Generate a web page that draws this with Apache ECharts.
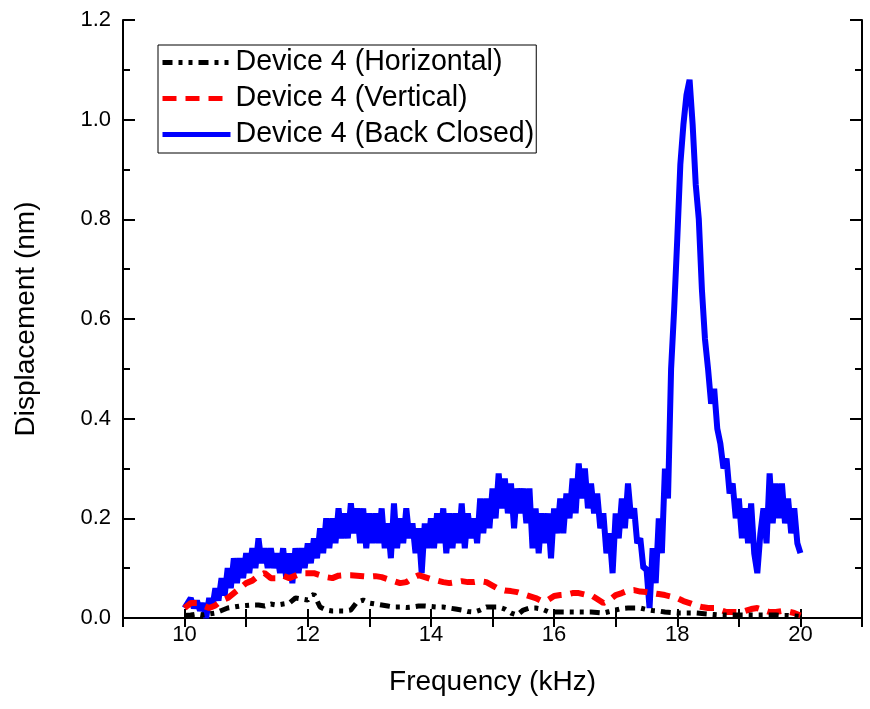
<!DOCTYPE html>
<html>
<head>
<meta charset="utf-8">
<script src="https://cdn.jsdelivr.net/npm/echarts@6/dist/echarts.min.js"></script>
<style>
  html, body { margin: 0; padding: 0; background: #fff; }
  #chart { width: 870px; height: 709px; }
</style>
</head>
<body>
<div id="chart"></div>
<script>
// Displacement vs frequency, Device 4
const seriesNames = ['Device 4 (Horizontal)', 'Device 4 (Vertical)', 'Device 4 (Back Closed)'];
const xTicks = [10, 12, 14, 16, 18, 20];

// Back Closed: sampled every 0.05 kHz from 10 to 20 kHz (noisy band)
const backStep = 0.05;
const backClosed = [
  0.02, 0.03, 0.04, 0.02, 0.035, 0.015, 0.03, 0.0, 0.04, 0.02,
  0.06, 0.035, 0.08, 0.045, 0.10, 0.06, 0.12, 0.07, 0.12, 0.08,
  0.13, 0.09, 0.14, 0.10, 0.16, 0.11, 0.14, 0.10, 0.14, 0.10,
  0.13, 0.09, 0.14, 0.08, 0.13, 0.07, 0.14, 0.09, 0.14, 0.10,
  0.15, 0.11, 0.16, 0.12, 0.18, 0.13, 0.20, 0.14, 0.20, 0.15,
  0.22, 0.16, 0.21, 0.16, 0.23, 0.17, 0.22, 0.15, 0.22, 0.14,
  0.21, 0.15, 0.21, 0.15, 0.22, 0.14, 0.19, 0.12, 0.23, 0.14,
  0.20, 0.15, 0.22, 0.16, 0.19, 0.13, 0.18, 0.09, 0.19, 0.14,
  0.20, 0.14, 0.21, 0.15, 0.22, 0.13, 0.21, 0.14, 0.21, 0.15,
  0.23, 0.14, 0.21, 0.16, 0.20, 0.15, 0.24, 0.17, 0.24, 0.18,
  0.26, 0.20, 0.29, 0.22, 0.28, 0.21, 0.27, 0.18, 0.26, 0.21,
  0.26, 0.19, 0.26, 0.14, 0.22, 0.13, 0.21, 0.15, 0.21, 0.12,
  0.22, 0.17, 0.24, 0.17, 0.25, 0.20, 0.28, 0.21, 0.31, 0.24,
  0.30, 0.22, 0.27, 0.21, 0.25, 0.18, 0.21, 0.13, 0.17, 0.09,
  0.21, 0.16, 0.24, 0.18, 0.27, 0.20, 0.22, 0.15, 0.16, 0.10,
  0.10, 0.02, 0.14, 0.07, 0.20, 0.13, 0.30, 0.24, 0.50, 0.62,
  0.76, 0.91, 0.99, 1.05, 1.08, 0.99, 0.87, 0.80, 0.66, 0.56,
  0.50, 0.43, 0.46, 0.38, 0.35, 0.30, 0.32, 0.25, 0.27, 0.20,
  0.24, 0.16, 0.22, 0.15, 0.23, 0.13, 0.09, 0.17, 0.22, 0.15,
  0.29, 0.19, 0.27, 0.20, 0.27, 0.19, 0.24, 0.17, 0.22, 0.15,
  0.13
];

// Vertical and Horizontal: sampled every 0.1 kHz from 10 to 20 kHz
const slowStep = 0.1;
const vertical = [
  0.02, 0.03, 0.03, 0.025, 0.02, 0.025, 0.035, 0.04, 0.05, 0.06,
  0.07, 0.075, 0.085, 0.09, 0.08, 0.08, 0.085, 0.08, 0.085, 0.09,
  0.09, 0.09, 0.086, 0.082, 0.08, 0.085, 0.086, 0.086, 0.085, 0.084,
  0.083, 0.084, 0.082, 0.078, 0.074, 0.07, 0.072, 0.08, 0.086, 0.082,
  0.078, 0.075, 0.072, 0.07, 0.072, 0.074, 0.072, 0.072, 0.074, 0.072,
  0.065, 0.058, 0.055, 0.054, 0.052, 0.048, 0.044, 0.04, 0.034, 0.036,
  0.044, 0.046, 0.047, 0.05, 0.05, 0.047, 0.046, 0.038, 0.03, 0.036,
  0.046, 0.05, 0.055, 0.056, 0.053, 0.052, 0.05, 0.048, 0.046, 0.043,
  0.04, 0.034, 0.03, 0.025, 0.022, 0.02, 0.02, 0.016, 0.012, 0.012,
  0.012, 0.014, 0.018, 0.02, 0.016, 0.012, 0.012, 0.014, 0.013, 0.01,
  0.005
];
const horizontal = [
  0.005, 0.006, 0.008, 0.006, 0.008, 0.01, 0.015, 0.02, 0.022, 0.024,
  0.025, 0.026, 0.026, 0.024, 0.028, 0.026, 0.028, 0.03, 0.04, 0.038,
  0.036, 0.048, 0.022, 0.016, 0.014, 0.014, 0.014, 0.016, 0.032, 0.036,
  0.03, 0.028, 0.026, 0.024, 0.022, 0.022, 0.021, 0.022, 0.024, 0.024,
  0.023, 0.022, 0.022, 0.02, 0.018, 0.016, 0.013, 0.012, 0.016, 0.022,
  0.022, 0.022, 0.018, 0.01, 0.006, 0.016, 0.02, 0.02, 0.018, 0.013,
  0.012, 0.012, 0.012, 0.012, 0.012, 0.012, 0.012, 0.011, 0.01, 0.013,
  0.016, 0.019, 0.02, 0.02, 0.02, 0.017, 0.015, 0.014, 0.012, 0.011,
  0.01, 0.01, 0.01, 0.01, 0.009, 0.008, 0.007, 0.006, 0.006, 0.006,
  0.006, 0.006, 0.006, 0.006, 0.006, 0.006, 0.006, 0.005, 0.005, 0.004,
  0.003
];

const pairs = (vals, step) => vals.map((v, i) => [+(10 + i * step).toFixed(2), v]);

const FONT = '"Liberation Sans", Arial, sans-serif';
const chart = echarts.init(document.getElementById('chart'));

const xBase = {
  type: 'value', min: 9, max: 21, interval: 1,
  axisLine: { lineStyle: { color: '#000', width: 2 } },
  axisTick: { inside: true, length: 9, lineStyle: { color: '#000', width: 2 } },
  splitLine: { show: false }
};
const yBase = {
  type: 'value', min: 0, max: 1.2, interval: 0.2,
  axisLine: { lineStyle: { color: '#000', width: 2 } },
  axisTick: { inside: true, length: 12, lineStyle: { color: '#000', width: 2 } },
  minorTick: { show: true, splitNumber: 2, length: 7, lineStyle: { color: '#000', width: 2 } },
  splitLine: { show: false }
};

chart.setOption({
  animation: false,
  backgroundColor: '#fff',
  grid: { left: 123, right: 8, top: 20, bottom: 91 },
  legend: {
    data: seriesNames,
    orient: 'vertical',
    left: 158, top: 45,
    padding: [3, 2, 4, 2],
    itemWidth: 68, itemHeight: 20, itemGap: 7,
    borderColor: '#000', borderWidth: 1,
    itemStyle: { opacity: 0 },
    lineStyle: { width: 5 },
    textStyle: { fontFamily: FONT, fontSize: 28.6, color: '#000' }
  },
  xAxis: [
    Object.assign({}, xBase, {
      position: 'bottom',
      name: 'Frequency (kHz)', nameLocation: 'middle', nameGap: 50,
      nameTextStyle: { fontFamily: FONT, fontSize: 28, color: '#000' },
      axisLabel: {
        fontFamily: FONT, fontSize: 22, color: '#000', margin: 6,
        formatter: v => (xTicks.indexOf(v) >= 0 ? String(v) : '')
      }
    }),
    Object.assign({}, xBase, { position: 'top', axisLabel: { show: false } })
  ],
  yAxis: [
    Object.assign({}, yBase, {
      position: 'left',
      name: 'Displacement (nm)', nameLocation: 'middle', nameGap: 83,
      nameTextStyle: { fontFamily: FONT, fontSize: 28, color: '#000' },
      axisLabel: {
        fontFamily: FONT, fontSize: 22, color: '#000', margin: 12,
        formatter: v => v.toFixed(1)
      }
    }),
    Object.assign({}, yBase, { position: 'right', axisLabel: { show: false } })
  ],
  series: [
    {
      name: seriesNames[2], type: 'line', symbol: 'none',
      data: pairs(backClosed, backStep),
      lineStyle: { color: '#0000ff', width: 6 }, itemStyle: { color: '#0000ff' }
    },
    {
      name: seriesNames[1], type: 'line', symbol: 'none',
      data: pairs(vertical, slowStep),
      lineStyle: { color: '#ff0000', width: 6, type: [14, 9] }, itemStyle: { color: '#ff0000' }
    },
    {
      name: seriesNames[0], type: 'line', symbol: 'none',
      data: pairs(horizontal, slowStep),
      lineStyle: { color: '#000', width: 5, type: [10, 6, 4, 6, 4, 6] }, itemStyle: { color: '#000' }
    }
  ]
});
</script>
</body>
</html>
